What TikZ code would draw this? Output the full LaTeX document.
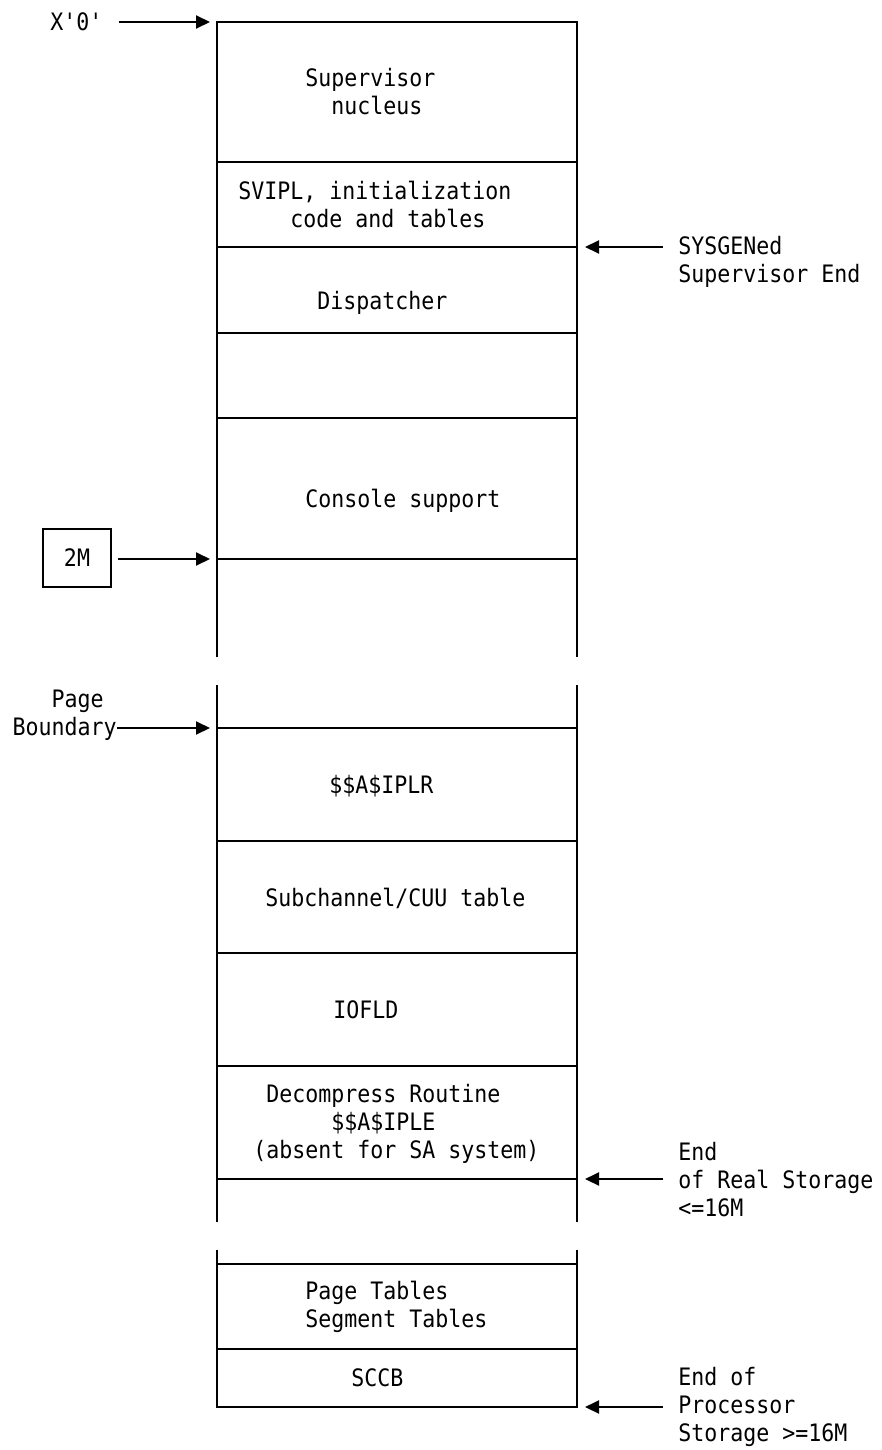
\documentclass[tikz,border=0pt]{standalone}
\usepackage{fontspec}
\newfontfamily\memfont{DejaVu Sans Mono}[FakeStretch=0.9]
\usetikzlibrary{arrows.meta}
\begin{document}
\begin{tikzpicture}[x=0.5pt,y=-0.5pt,
  every node/.style={font=\memfont\fontsize{12}{14}\selectfont, inner sep=0pt},
  lbl/.style={align=left, anchor=west},
  rule/.style={line width=1pt},
  ptr/.style={line width=1pt, -{Triangle[length=7pt,width=6.5pt]}},
  valbox/.style={draw, line width=1pt, minimum width=34pt, minimum height=29pt},
]
\useasboundingbox (0,0) rectangle (882,1450);

% ---- storage column, first part (X'0' up to beyond 2M)
\coordinate (c0) at (217,22);
\coordinate (sEnd) at (577,247);
\coordinate (m2) at (217,559);
\draw[rule] (217,657) -- (c0) -- (577,22) -- (577,657);
\foreach \y in {162,247,333,418,559} \draw[rule] (217,\y) -- (577,\y);

% ---- storage column, second part (page boundary up to end of real storage)
\coordinate (pgb) at (217,728);
\coordinate (rEnd) at (577,1179);
\draw[rule] (217,685) -- (217,1222);
\draw[rule] (577,685) -- (577,1222);
\foreach \y in {728,841,953,1066,1179} \draw[rule] (217,\y) -- (577,\y);

% ---- storage column, last part (tables and SCCB)
\coordinate (pEnd) at (577,1407);
\draw[rule] (217,1250) -- (217,1407) -- (pEnd) -- (577,1250);
\foreach \y in {1264,1349} \draw[rule] (217,\y) -- (577,\y);

% ---- area contents
\node[lbl] (sup)    at (305,92)   {Supervisor\\~~nucleus};
\node[lbl] (svipl)  at (238,204)  {SVIPL, initialization\\~~~~code and tables};
\node[lbl] (disp)   at (317,303)  {Dispatcher};
\node[lbl] (cons)   at (305,501)  {Console support};
\node[lbl] (iplr)   at (329,786)  {\$\$A\$IPLR};
\node[lbl] (subch)  at (265,898)  {Subchannel/CUU table};
\node[lbl] (iofld)  at (333,1010) {IOFLD};
\node[lbl] (decomp) at (253,1124) {~Decompress Routine\\~~~~~~\$\$A\$IPLE\\(absent for SA system)};
\node[lbl] (ptab)   at (305,1307) {Page Tables\\Segment Tables};
\node[lbl] (sccb)   at (351,1378) {SCCB};

% ---- left-hand markers
\node[lbl] (x0) at (50,22) {X\char"27 0\char"27};
\draw[ptr, shorten <=8pt, shorten >=3.5pt] (x0.east) -- (c0);

\node[valbox] (two) at (77,558) {2M};
\draw[ptr, shorten <=3pt, shorten >=3.5pt] (two.east |- m2) -- (m2);

\node[align=left, anchor=east] (pb) at (117,715) {~~~Page\\Boundary};
\draw[ptr, shorten >=3.5pt] (pb.east |- pgb) -- (pgb);

% ---- right-hand markers
\node[lbl] (sysg) at (678,262)  {SYSGENed\\Supervisor End};
\draw[ptr, shorten <=7.5pt, shorten >=4pt] (sysg.west |- sEnd) -- (sEnd);

\node[lbl] (real) at (678,1180) {End\\of Real Storage\\<=16M};
\draw[ptr, shorten <=7.5pt, shorten >=4pt] (real.west |- rEnd) -- (rEnd);

\node[lbl] (proc) at (678,1407) {End of\\Processor\\Storage >=16M};
\draw[ptr, shorten <=7.5pt, shorten >=4pt] (proc.west |- pEnd) -- (pEnd);
\end{tikzpicture}
\end{document}
